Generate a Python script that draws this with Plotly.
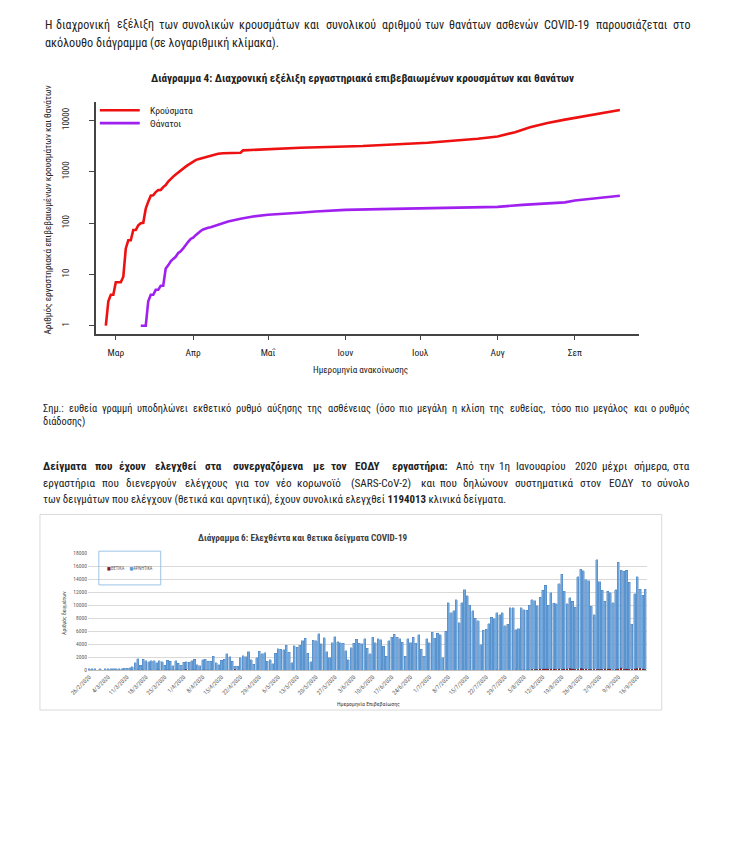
import plotly.graph_objects as go
import pandas as pd

W, H = 733, 861
def cx(p): return (p - 16) / 0.976        # horizontal page position -> figure pixel
def px(x): return cx(x) / W
def py(y): return 1 - y / H

FONT = "Liberation Sans Narrow, Arial Narrow, Roboto Condensed, DejaVu Sans Condensed, Liberation Sans, sans-serif"

# ---------------- Chart 4 data (cumulative cases / deaths, log scale) ----------------
case_dates = ['2020-02-26', '2020-02-27', '2020-02-28', '2020-02-29', '2020-03-01', '2020-03-02',
              '2020-03-03', '2020-03-04', '2020-03-05', '2020-03-06', '2020-03-07', '2020-03-08',
              '2020-03-09', '2020-03-10', '2020-03-11', '2020-03-12', '2020-03-13', '2020-03-14',
              '2020-03-15', '2020-03-16', '2020-03-17', '2020-03-18', '2020-03-19', '2020-03-20',
              '2020-03-21', '2020-03-22', '2020-03-23', '2020-03-24', '2020-03-25', '2020-03-26',
              '2020-03-27', '2020-03-28', '2020-03-29', '2020-03-30', '2020-03-31', '2020-04-01',
              '2020-04-02', '2020-04-03', '2020-04-04', '2020-04-05', '2020-04-06', '2020-04-07',
              '2020-04-08', '2020-04-09', '2020-04-10', '2020-04-11', '2020-04-13', '2020-04-16',
              '2020-04-20', '2020-04-21', '2020-04-25', '2020-05-01', '2020-05-14', '2020-06-01',
              '2020-06-08', '2020-07-04', '2020-07-15', '2020-07-24', '2020-08-01', '2020-08-08',
              '2020-08-14', '2020-08-21', '2020-08-28', '2020-09-04', '2020-09-11', '2020-09-19']
case_values = [1, 3, 4, 4, 7, 7,
               7, 9, 32, 46, 46, 73,
               73, 90, 99, 101, 190, 260,
               340, 345, 400, 437, 440, 500,
               547, 640, 734, 800, 880, 970,
               1067, 1150, 1250, 1350, 1470, 1590,
               1680, 1750, 1810, 1870, 1930, 1990,
               2050, 2110, 2170, 2236, 2280, 2310,
               2335, 2596, 2650, 2720, 2915, 3080,
               3147, 3640, 3950, 4355, 4840, 5863,
               7330, 8870, 10300, 11800, 13240, 15840]

death_dates = ['2020-03-11', '2020-03-12', '2020-03-13', '2020-03-14', '2020-03-15', '2020-03-16',
               '2020-03-17', '2020-03-18', '2020-03-19', '2020-03-20', '2020-03-21', '2020-03-22',
               '2020-03-23', '2020-03-24', '2020-03-25', '2020-03-26', '2020-03-27', '2020-03-28',
               '2020-03-29', '2020-03-30', '2020-03-31', '2020-04-01', '2020-04-02', '2020-04-03',
               '2020-04-04', '2020-04-05', '2020-04-06', '2020-04-07', '2020-04-08', '2020-04-09',
               '2020-04-10', '2020-04-11', '2020-04-12', '2020-04-15', '2020-04-20', '2020-04-25',
               '2020-05-01', '2020-05-10', '2020-05-15', '2020-05-20', '2020-06-01', '2020-06-15',
               '2020-07-01', '2020-07-18', '2020-08-01', '2020-08-11', '2020-08-20', '2020-08-28',
               '2020-09-01', '2020-09-10', '2020-09-19']
death_values = [1, 1, 1, 3, 4, 4,
                5, 5, 6, 6, 13, 15,
                18, 20, 22, 26, 28, 32,
                38, 43, 49, 52, 58, 65,
                70, 75, 79, 81, 83, 86,
                91, 95, 98, 107, 121, 134,
                145, 152, 160, 167, 180, 186,
                192, 199, 206, 225, 235, 252,
                275, 305, 340]

month_ticks = ['2020-03-01', '2020-04-01', '2020-05-01', '2020-06-01', '2020-07-01', '2020-08-01', '2020-09-01']
month_labels = ['Μαρ', 'Απρ', 'Μαΐ', 'Ιουν', 'Ιουλ', 'Αυγ', 'Σεπ']
log_ticks = [1, 10, 100, 1000, 10000]
log_labels = ['1', '10', '100', '1000', '10000']

# ---------------- Chart 6 data (daily samples) ----------------
bar_first_day = '2020-02-26'
positives = [1, 2, 1, 0, 3, 0, 0, 2, 1, 22, 14, 7, 11, 5, 16,
             18, 73, 38, 103, 0, 56, 31, 0, 77, 35, 94, 71, 48, 78, 71, 74, 95, 95, 56, 102,
             101, 129, 69, 60, 62, 20, 77, 52, 71, 56, 70, 33, 31, 25, 22, 15, 17, 11, 10, 156,
             7, 7, 55, 15, 36, 5, 9, 10, 17, 15,
             15, 6, 2, 10, 3, 12, 9, 16, 17, 7, 0, 10, 16, 7, 9, 15, 10, 8, 9, 11, 3, 6, 2, 5, 2,
             6, 10, 6, 2, 4, 1,
             1, 2, 19, 3, 10, 6, 9, 4, 11, 2, 20, 16, 97, 10, 2, 20, 22, 34, 12, 15, 23, 30, 8, 13,
             17, 6, 34, 19, 7, 26,
             14, 20, 34, 22, 29, 25, 15, 14, 20, 25, 11, 37, 41, 40, 34, 28, 20, 19, 12, 31, 22,
             15, 19, 32, 25, 60, 56, 33, 25, 38, 43,
             41, 110, 34, 57, 81, 121, 103, 153, 151, 126, 203, 262, 204, 254, 230, 217, 133, 269,
             168, 241, 235, 284, 211, 162, 189, 293, 206, 221, 180, 149, 169,
             150, 156, 168, 220, 229, 243, 106, 172, 273, 372, 171, 249, 157, 156, 214, 302, 281,
             262, 193]
negatives = [250, 200, 250, 0, 200, 0, 250, 250, 250, 250, 250, 250, 250, 300, 300,
             350, 500, 1100, 1700, 750, 1650, 1400, 1300, 1400, 1400, 1100, 1400, 1250, 700, 1500,
             1300, 600, 1400, 1000, 700, 1150, 1150, 1200, 1400, 1650, 850, 600, 1550, 1600, 1300,
             1300, 2100, 1100, 850, 1550, 1700, 2550, 2050, 1400, 450, 600, 1950, 2150, 2100, 2850,
             1650, 950, 1950, 2900, 2550, 2650, 1400, 1650,
             1000, 2650, 3300, 3250, 3150, 3850, 2750, 1200, 3800, 3550, 3850, 4500, 4900, 2600,
             1300, 4600, 4500, 5600, 4100, 5000, 2850, 1950, 4250, 5150, 4400, 4250, 4150, 3000,
             1650, 3450, 4150, 4800, 4150, 4050, 4850, 3400, 2550, 5100, 4250, 4850, 4600, 3650,
             2150, 4500, 5050, 5500, 5100, 4850, 4300, 2150, 4850, 4250, 5050, 4150, 5450, 3250,
             2150, 4850, 4250, 5800, 4900, 5700, 5400, 1900, 6000, 10400, 8850, 9100, 10800, 7250,
             10300, 12300, 11400,
             10000, 9100, 7950, 7600, 3900, 6150, 6300, 7100, 8150, 7900, 8750, 8500, 8800, 6800,
             7000, 9550, 9550, 6150, 6350, 9550, 9200, 9100, 9900, 10650, 10550, 9800, 11000, 12050,
             12900, 9750, 11650, 10100, 10100, 13000, 14600, 11900, 10000, 10900, 10400, 9550,
             14200, 15200, 15050, 13700, 13600, 9700, 8350, 16800, 13450, 12150, 10400, 11900,
             11700, 10250, 12200, 16350, 15000, 15050, 15100, 13350, 6950, 11550, 14100, 12200,
             11300, 12250]

bar_days = pd.date_range(bar_first_day, periods=len(negatives), freq='D')
bar_labels = [f"{d.day}/{d.month}/{d.year}" for d in bar_days]
bar_tick_labels = bar_labels[::7]

# ---------------- Page text ----------------
p1_line1 = 'Η διαχρονική εξέλιξη των συνολικών κρουσμάτων και συνολικού αριθμού των θανάτων ασθενών COVID-19 παρουσιάζεται στο'
p1_line2 = 'ακόλουθο διάγραμμα (σε λογαριθμική κλίμακα).'
note_line1 = 'Σημ.: ευθεία γραμμή υποδηλώνει εκθετικό ρυθμό αύξησης της ασθένειας (όσο πιο μεγάλη η κλίση της ευθείας, τόσο πιο μεγάλος και ο ρυθμός'
note_line2 = 'διάδοσης)'
p3_bold = 'Δείγματα που έχουν ελεγχθεί στα συνεργαζόμενα με τον ΕΟΔΥ εργαστήρια:'
p3_line1_rest = 'Από την 1η Ιανουαρίου 2020 μέχρι σήμερα, στα'
p3_line2 = 'εργαστήρια που διενεργούν ελέγχους για τον νέο κορωνοϊό (SARS-CoV-2) και που δηλώνουν συστηματικά στον ΕΟΔΥ το σύνολο'
p3_line3 = 'των δειγμάτων που ελέγχουν (θετικά και αρνητικά), έχουν συνολικά ελεγχθεί <b>1194013</b> κλινικά δείγματα.'

# ---------------- Figure ----------------
fig = go.Figure()
fig.add_trace(go.Scatter(x=case_dates, y=case_values, mode='lines', name='Κρούσματα',
                         line=dict(color='#EE1111', width=2.6), xaxis='x', yaxis='y', showlegend=False))
fig.add_trace(go.Scatter(x=death_dates, y=death_values, mode='lines', name='Θάνατοι',
                         line=dict(color='#A020F0', width=2.6), xaxis='x', yaxis='y', showlegend=False))
fig.add_trace(go.Bar(x=bar_labels, y=positives, name='ΘΕΤΙΚΑ', marker=dict(color='#8B1A1A', line=dict(width=0)),
                     xaxis='x2', yaxis='y2', showlegend=False))
fig.add_trace(go.Bar(x=bar_labels, y=negatives, name='ΑΡΝΗΤΙΚΑ',
                     marker=dict(color='#6FA6DC', line=dict(color='#3F78B8', width=0.4)),
                     xaxis='x2', yaxis='y2', showlegend=False))

AX = '#444444'
fig.update_layout(
    width=W, height=H, autosize=False,
    margin=dict(l=0, r=0, t=0, b=0),
    paper_bgcolor='white', plot_bgcolor='rgba(0,0,0,0)',
    font=dict(family=FONT, color='#222222'),
    barmode='stack', bargap=0.22,
    xaxis=dict(domain=[px(93), px(637)], anchor='y', type='date',
               range=['2020-02-22', '2020-09-26 14:00'],
               tickmode='array', tickvals=month_ticks, ticktext=month_labels,
               ticks='outside', ticklen=5, tickwidth=1.2, tickcolor=AX,
               showline=True, linecolor=AX, linewidth=1.5, showgrid=False, zeroline=False,
               tickfont=dict(size=9.5, color='#222222', family=FONT), ticklabelstandoff=4),
    yaxis=dict(domain=[py(333), py(100)], anchor='x', type='log', range=[-0.155, 4.35],
               tickmode='array', tickvals=log_ticks, ticktext=log_labels, tickangle=-90,
               ticks='outside', ticklen=5, tickwidth=1.2, tickcolor=AX,
               showline=True, linecolor=AX, linewidth=1.5, showgrid=False, zeroline=False,
               tickfont=dict(size=9, color='#222222', family=FONT), ticklabelstandoff=17),
    xaxis2=dict(domain=[px(85), px(645)], anchor='y2', type='category', range=[-0.5, len(negatives) - 0.5],
                tickmode='array', tickvals=bar_tick_labels, ticktext=bar_tick_labels, tickangle=-45,
                ticks='', showline=True, linecolor='#BFBFBF', linewidth=0.8, showgrid=False,
                tickfont=dict(size=6, color='#595959', family=FONT)),
    yaxis2=dict(domain=[py(672), py(554)], anchor='x2', range=[0, 18000], dtick=2000, tickformat='d',
                showgrid=True, gridcolor='#D9D9D9', gridwidth=0.8, zeroline=False, showline=False,
                tickfont=dict(size=5.5, color='#595959', family=FONT)),
)

def ann(text, x, y, size, xanchor='left', color='#222222', angle=0, raw_x=False):
    xx = x / W if raw_x else px(x)
    return dict(text=text, x=xx, y=py(y), xref='paper', yref='paper', xanchor=xanchor, yanchor='middle',
                showarrow=False, textangle=angle, font=dict(size=size, color=color, family=FONT))

def est_em(word, bold):
    tot = 0.0
    for ch in word:
        if ch in 'ιίϊΐIl.,:;!|1': w = 0.26
        elif ch in '()-/': w = 0.3
        elif ch.isdigit(): w = 0.5
        elif ch.isupper(): w = 0.62
        else: w = 0.49
        tot += w
    return tot * (1.08 if bold else 1.0)

def justified(words, x0, x1, y, size, sp=0.34):
    """Spread the words of one line proportionally so it fills x0..x1 (page coords)."""
    t0, t1 = cx(x0), cx(x1)
    span = t1 - t0
    ws = [est_em(w, b) for w, b in words]
    total = sum(ws) + sp * (len(ws) - 1)
    out, cum, n = [], 0.0, len(words)
    for i, ((w, b), wd) in enumerate(zip(words, ws)):
        txt = f'<b>{w}</b>' if b else w
        if i == 0:
            out.append(ann(txt, t0, y, size, 'left', raw_x=True))
        elif i == n - 1:
            out.append(ann(txt, t1, y, size, 'right', raw_x=True))
        else:
            centre = t0 + (cum + wd / 2) / total * span
            out.append(ann(txt, centre, y, size, 'center', raw_x=True))
        cum += wd + sp
    return out

def words_of(s, bold=False):
    return [(w, bold) for w in s.split()]

annotations = []
annotations += justified(words_of(p1_line1), 40, 690, 22, 12.0)
annotations.append(ann(p1_line2, 40, 40, 12.2))
annotations += [
    ann('<b>Διάγραμμα 4: Διαχρονική εξέλιξη εργαστηριακά επιβεβαιωμένων κρουσμάτων και θανάτων</b>', 360, 76, 11.2, 'center'),
    ann('Αριθμός εργαστηριακά επιβεβαιωμένων κρουσμάτων και θανάτων', 45, 208, 9.3, 'center', angle=-90),
    ann('Ημερομηνία ανακοίνωσης', 358, 369, 9.2, 'center'),
    ann('Κρούσματα', 145, 108, 9.6),
    ann('Θάνατοι', 145, 121, 9.6),
]
annotations += justified(words_of(note_line1), 38, 690, 408, 10.4)
annotations.append(ann(note_line2, 38, 421, 10.4))
annotations += justified(words_of(p3_bold, True) + words_of(p3_line1_rest), 38, 690, 467, 11.2)
annotations += justified(words_of(p3_line2), 38, 690, 484, 11.2)
annotations.append(ann(p3_line3, 38, 500, 10.9))
annotations += [
    ann('<b>Διάγραμμα 6: Ελεχθέντα και θετικα δείγματα COVID-19</b>', 301, 539, 9.2, 'center', color='#404040'),
    ann('Αριθμός δειγμάτων', 61, 614, 5.5, 'center', color='#404040', angle=-90),
    ann('Ημερομηνία Επιβεβαίωσης', 366, 706, 5.8, 'center', color='#404040'),
    ann("<span style='color:#8B1A1A'>■</span>ΘΕΤΙΚΑ     <span style='color:#5B9BD5'>■</span>ΑΡΝΗΤΙΚΑ", 127, 569, 4.5, 'center', color='#595959'),
]
fig.update_layout(annotations=annotations)

def pline(x0, y0, x1, y1, color, width):
    return dict(type='line', xref='paper', yref='paper', x0=px(x0), y0=py(y0), x1=px(x1), y1=py(y1),
                line=dict(color=color, width=width))

def prect(x0, y0, x1, y1, color, width):
    return dict(type='rect', xref='paper', yref='paper', x0=px(x0), y0=py(y0), x1=px(x1), y1=py(y1),
                line=dict(color=color, width=width), fillcolor='rgba(0,0,0,0)')

fig.update_layout(shapes=[
    pline(97, 108, 137, 108, '#EE1111', 2.6),
    pline(97, 121, 137, 121, '#A020F0', 2.6),
    prect(37, 515, 660, 712, '#D9D9D9', 1),
    prect(96, 552, 158, 586, '#9DC3E6', 1),
])

fig.write_html("out.html", config={'displayModeBar': False},
               post_script="document.body.style.margin='0px';document.body.style.overflow='hidden';")
